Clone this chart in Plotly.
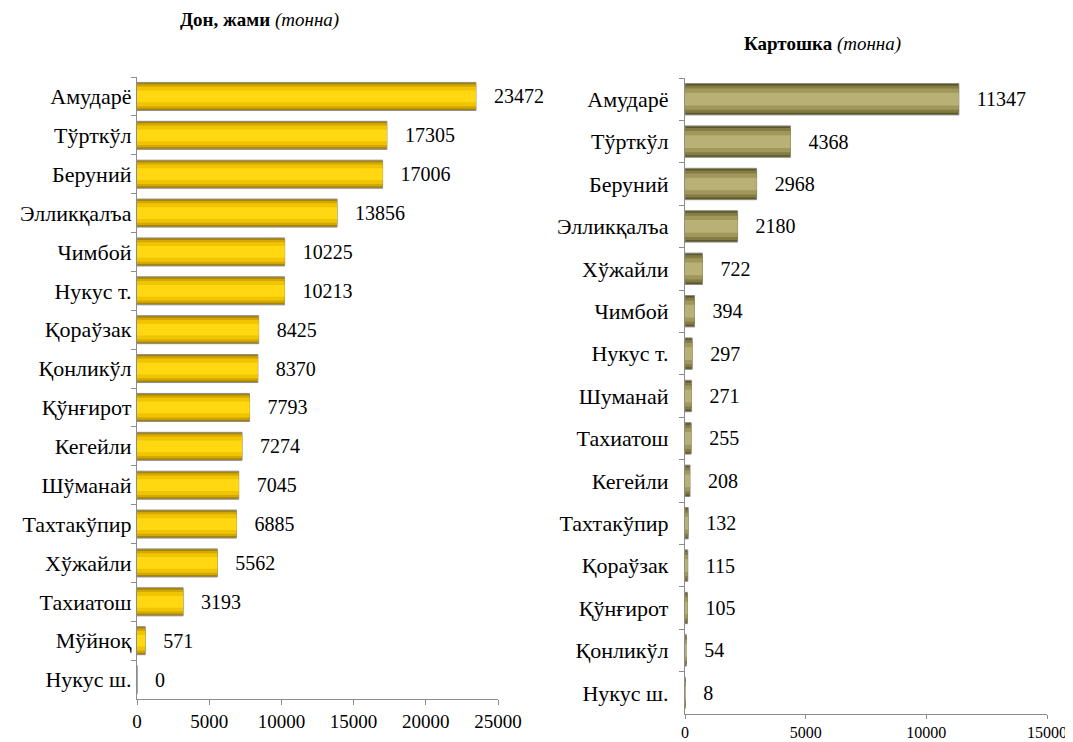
import plotly.graph_objects as go

grain_districts = ["Амударё", "Тўрткўл", "Беруний", "Элликқалъа", "Чимбой", "Нукус т.",
                   "Қораўзак", "Қонликўл", "Қўнғирот", "Кегейли", "Шўманай", "Тахтакўпир",
                   "Хўжайли", "Тахиатош", "Мўйноқ", "Нукус ш."]
grain_values = [23472, 17305, 17006, 13856, 10225, 10213, 8425, 8370, 7793, 7274, 7045,
                6885, 5562, 3193, 571, 0]

potato_districts = ["Амударё", "Тўрткўл", "Беруний", "Элликқалъа", "Хўжайли", "Чимбой",
                    "Нукус т.", "Шуманай", "Тахиатош", "Кегейли", "Тахтакўпир", "Қораўзак",
                    "Қўнғирот", "Қонликўл", "Нукус ш."]
potato_values = [11347, 4368, 2968, 2180, 722, 394, 297, 271, 255, 208, 132, 115, 105, 54, 8]

FONT = "Liberation Serif, Times New Roman, serif"
W, H = 1073, 742
OFF = 8  # page body margin


def px(x):
    return (x - OFF) / W


def py(y):
    return 1 - (y - OFF) / H


fig = go.Figure()


def add_bevel_bars(cats, vals, xa, ya, layers, label_pad):
    first = True
    for width, color, edge in layers:
        if first:
            kw = dict(text=[f"{label_pad}{v}" for v in vals], textposition="outside",
                      textfont=dict(family=FONT, size=20, color="#000"),
                      cliponaxis=False, hoverinfo="x+y")
        else:
            kw = dict(hoverinfo="skip")
        fig.add_trace(go.Bar(y=cats, x=vals, orientation="h", width=width,
                             marker=dict(color=color,
                                         line=dict(color=edge or color, width=1 if edge else 0)),
                             xaxis=xa, yaxis=ya, showlegend=False, **kw))
        first = False


add_bevel_bars(grain_districts, grain_values, "x", "y",
               [(0.72, "#A88600", "#8A8A8A"), (0.62, "#D4A800", None),
                (0.5, "#F0C400", None), (0.3, "#FFD812", None)], "   ")
add_bevel_bars(potato_districts, potato_values, "x2", "y2",
               [(0.74, "#5E5828", "#8A8A8A"), (0.64, "#847C43", None),
                (0.5, "#A0975A", None), (0.3, "#B8B074", None)], "   ")

axis_common = dict(showgrid=False, zeroline=False, showline=True, linecolor="#8C8C8C",
                   linewidth=1.3, ticks="outside", tickcolor="#8C8C8C",
                   fixedrange=True, automargin=False)

fig.update_layout(
    width=W, height=H,
    paper_bgcolor="white", plot_bgcolor="white",
    margin=dict(l=0, r=0, t=0, b=0, autoexpand=False),
    barmode="overlay",
    font=dict(family=FONT, color="#000"),
    xaxis=dict(domain=[px(137), px(498)], range=[0, 25000], dtick=5000, tickformat="d",
               anchor="y", tickfont=dict(size=19), ticklen=5, **axis_common),
    yaxis=dict(domain=[py(699), py(77)], autorange="reversed", anchor="x",
               tickson="boundaries", tickfont=dict(size=22), ticklabelstandoff=0,
               ticklen=5, **axis_common),
    xaxis2=dict(domain=[px(685), px(1047)], range=[0, 15000], dtick=5000, tickformat="d",
                anchor="y2", tickfont=dict(size=16), ticklen=4, **axis_common),
    yaxis2=dict(domain=[py(714), py(78)], autorange="reversed", anchor="x2",
                tickson="boundaries", tickfont=dict(size=22), ticklabelstandoff=11,
                ticklen=5, **axis_common),
    annotations=[
        dict(text="<b>Дон, жами</b> <i>(тонна)</i>", x=px(260), y=py(20), xref="paper",
             yref="paper", xanchor="center", yanchor="middle", showarrow=False,
             font=dict(size=19, family=FONT)),
        dict(text="<b>Картошка</b> <i>(тонна)</i>", x=px(822), y=py(44), xref="paper",
             yref="paper", xanchor="center", yanchor="middle", showarrow=False,
             font=dict(size=19, family=FONT)),
    ],
)

fig.write_html("out.html")
